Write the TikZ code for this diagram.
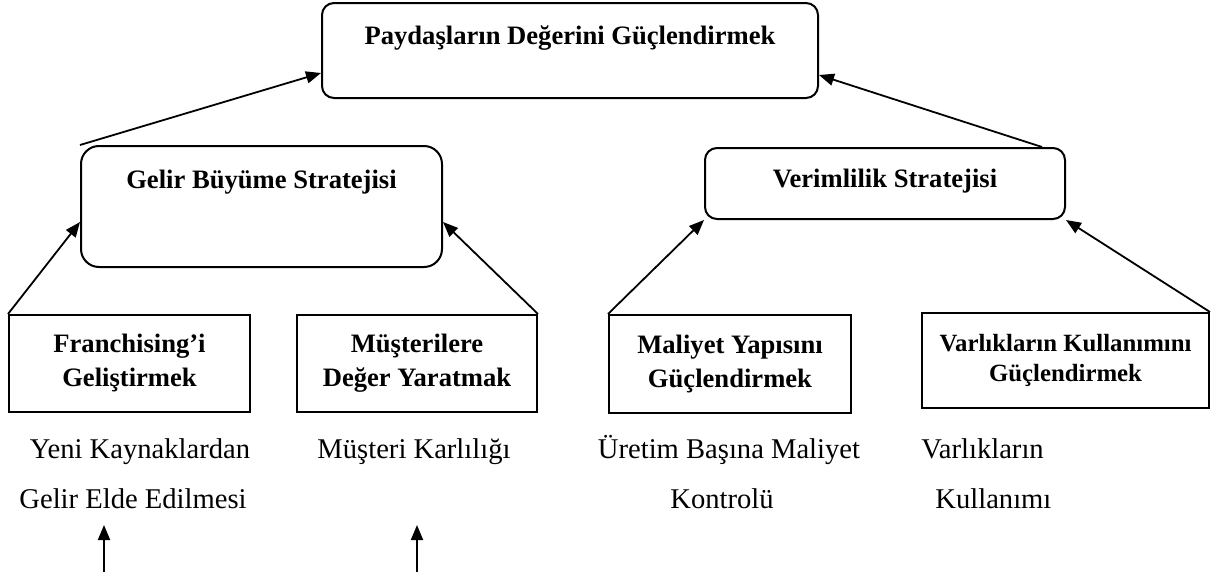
\documentclass[tikz,border=0pt]{standalone}
\usepackage{fontspec}
\setmainfont{Liberation Serif}
\usetikzlibrary{arrows.meta,calc}
\begin{document}
\begin{tikzpicture}[x=0.5pt,y=-0.5pt,
  rbox/.style={draw, line width=1pt, rounded corners=#1, inner sep=0pt},
  sbox/.style={draw, line width=1pt, inner sep=0pt, align=center,
    font=\bfseries\fontsize{13.3}{17}\selectfont},
  head/.style={font=\bfseries\fontsize{13.3}{17}\selectfont, anchor=base, inner sep=0pt},
  note/.style={font=\fontsize{14.3}{17}\selectfont, anchor=base, inner sep=0pt},
  link/.style={line width=0.9pt, -{Triangle[length=7.5pt,width=6pt]}}
]
\useasboundingbox (0,0) rectangle (1228,578);

% goal at the top
\node[rbox=6pt, minimum width=248pt, minimum height=47.5pt] (top) at (570,50.5) {};
\node[head] (toptxt) at (570,44) {Paydaşların Değerini Güçlendirmek};

% the two strategies
\node[rbox=9pt, minimum width=180.5pt, minimum height=60.5pt] (gelir) at (261.5,206.5) {};
\node[head] (gelirtxt) at (261.5,188) {Gelir Büyüme Stratejisi};
\node[rbox=6pt, minimum width=180pt, minimum height=35.5pt] (ver) at (885,183.5) {};
\node[head] (vertxt) at (885,187) {Verimlilik Stratejisi};

% the four levers
\node[sbox, minimum width=120.5pt, minimum height=48.5pt] (fr) at (129.5,363.5) {Franchising’i\\Geliştirmek};
\node[sbox, minimum width=120pt, minimum height=48.5pt] (mu) at (417,363.5) {Müşterilere\\Değer Yaratmak};
\node[sbox, minimum width=121pt, minimum height=49pt] (mal) at (730,364) {Maliyet Yapısını\\Güçlendirmek};
\node[sbox, font=\bfseries\fontsize{12.4}{15}\selectfont, minimum width=143.5pt, minimum height=47.5pt] (var) at (1065.5,360.5) {Varlıkların Kullanımını\\Güçlendirmek};

% measures under the levers
\node[note] (n1a) at (140,458) {Yeni Kaynaklardan};
\node[note] (n1b) at (133,508) {Gelir Elde Edilmesi};
\node[note] (n2) at (414,458) {Müşteri Karlılığı};
\node[note] (n3a) at (729,458) {Üretim Başına Maliyet};
\node[note] (n3b) at (722,508) {Kontrolü};
\node[note, anchor=base west] (n4a) at (921,458) {Varlıkların};
\node[note, anchor=base west] (n4b) at (935,508) {Kullanımı};

% connectors
\draw[link] (gelir.north west) -- ([yshift=13pt]top.south west);
\draw[link] ([xshift=-12pt]ver.north east) -- ([yshift=12pt]top.south east);
\draw[link] (fr.north west) -- ([yshift=23pt]gelir.south west);
\draw[link] (mu.north east) -- ([yshift=23pt]gelir.south east);
\draw[link] (mal.north west) -- (ver.south west);
\draw[link] (var.north east) -- (ver.south east);

\coordinate (a1) at (104,572);
\coordinate (a1t) at (104,525);
\coordinate (a2) at (417,572);
\coordinate (a2t) at (417,525);
\draw[link] (a1) -- (a1t);
\draw[link] (a2) -- (a2t);
\end{tikzpicture}
\end{document}
